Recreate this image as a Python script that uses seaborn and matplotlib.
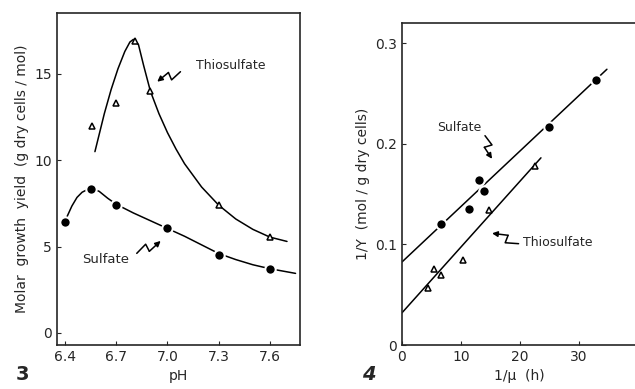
import numpy as np
import pandas as pd
import seaborn as sns
from matplotlib import pyplot as plt

# --- Fig 3: molar growth yield vs pH ---
ph_thio = [6.56, 6.7, 6.81, 6.9, 7.3, 7.6]
yield_thio = [12.0, 13.3, 16.9, 14.0, 7.4, 5.55]
ph_sulf = [6.4, 6.55, 6.7, 7.0, 7.3, 7.6]
yield_sulf = [6.4, 8.35, 7.4, 6.05, 4.5, 3.7]

# hand drawn curves
curve_thio_x = [6.575, 6.6, 6.63, 6.67, 6.71, 6.75, 6.78, 6.8, 6.83, 6.86, 6.9, 6.95, 7.0, 7.05, 7.1, 7.2, 7.3, 7.4, 7.5, 7.6, 7.7]
curve_thio_y = [10.5, 11.5, 12.7, 14.1, 15.3, 16.3, 16.85, 17.0, 16.7, 15.5, 14.0, 12.7, 11.6, 10.65, 9.8, 8.45, 7.4, 6.6, 6.0, 5.55, 5.3]
curve_sulf_x = [6.41, 6.44, 6.47, 6.5, 6.55, 6.6, 6.65, 6.7, 6.8, 6.9, 7.0, 7.1, 7.2, 7.3, 7.4, 7.5, 7.6, 7.75]
curve_sulf_y = [6.7, 7.35, 7.85, 8.15, 8.4, 8.2, 7.8, 7.45, 6.95, 6.5, 6.05, 5.6, 5.1, 4.6, 4.25, 3.95, 3.72, 3.45]

# --- Fig 4: 1/Y vs 1/mu ---
inv_mu_sulf = [6.6, 11.4, 13.1, 14.0, 25.0, 32.9]
inv_y_sulf = [0.120, 0.135, 0.164, 0.153, 0.217, 0.263]
inv_mu_thio = [4.5, 5.4, 6.7, 10.4, 14.7, 22.6]
inv_y_thio = [0.057, 0.076, 0.070, 0.084, 0.134, 0.178]

# fitted lines (end points)
fit_sulf_x = [0, 34.8]
fit_sulf_y = [0.0825, 0.274]
fit_thio_x = [0, 23.6]
fit_thio_y = [0.032, 0.186]

sns.set_style("ticks")
plt.rcParams["font.family"] = ["DejaVu Sans"]
plt.rcParams["xtick.direction"] = "in"
plt.rcParams["ytick.direction"] = "in"

fig = plt.figure(figsize=(6.35, 3.89), dpi=100)
ax1 = fig.add_axes([0.0898, 0.113, 0.3826, 0.8536])
ax2 = fig.add_axes([0.633, 0.113, 0.371, 0.828])

fs = 10

# left panel
sns.lineplot(x=curve_thio_x, y=curve_thio_y, sort=False, color="black", lw=1.1, ax=ax1)
sns.lineplot(x=curve_sulf_x, y=curve_sulf_y, sort=False, color="black", lw=1.1, ax=ax1)
ax1.plot(ph_thio, yield_thio, ls="none", marker="^", ms=5, mfc="white", mec="black", mew=1.1)
ax1.plot(ph_sulf, yield_sulf, ls="none", marker="o", ms=7.5, mfc="black", mec="white", mew=1.5)

ax1.set_xlim(6.353, 7.776)
ax1.set_ylim(-0.7, 18.53)
ax1.set_xticks([6.4, 6.7, 7.0, 7.3, 7.6])
ax1.set_xticklabels(["6.4", "6.7", "7.0", "7.3", "7.6"])
ax1.set_yticks([0, 5, 10, 15])
ax1.set_xlabel("pH", fontsize=fs)
ax1.set_ylabel("Molar  growth  yield  (g dry cells / mol)", fontsize=fs)
ax1.tick_params(labelsize=fs, length=3)

ax1.text(7.165, 15.5, "Thiosulfate", fontsize=9, va="center")
ax1.text(6.50, 4.28, "Sulfate", fontsize=9.5, va="center")

# right panel
sns.lineplot(x=fit_sulf_x, y=fit_sulf_y, color="black", lw=1.1, ax=ax2)
sns.lineplot(x=fit_thio_x, y=fit_thio_y, color="black", lw=1.1, ax=ax2)
ax2.plot(inv_mu_thio, inv_y_thio, ls="none", marker="^", ms=5, mfc="white", mec="black", mew=1.1)
ax2.plot(inv_mu_sulf, inv_y_sulf, ls="none", marker="o", ms=7.5, mfc="black", mec="white", mew=1.5)

ax2.set_xlim(0, 40)
ax2.set_ylim(0, 0.32)
ax2.set_xticks([0, 10, 20, 30])
ax2.set_yticks([0, 0.1, 0.2, 0.3])
ax2.set_yticklabels(["0", "0.1", "0.2", "0.3"])
ax2.set_xlabel("1/\u03bc  (h)", fontsize=fs)
ax2.set_ylabel("1/Y  (mol / g dry cells)", fontsize=fs)
ax2.tick_params(labelsize=fs, length=3)

ax2.text(5.9, 0.216, "Sulfate", fontsize=9, va="center")
ax2.text(20.6, 0.102, "Thiosulfate", fontsize=9, va="center")


def zigzag(ax, tail, head):
    # small lightning-shaped pointer from tail to head
    (x0, y0), (x1, y1) = tail, head
    t = ax.transData
    p0 = np.array(t.transform((x0, y0)))
    p1 = np.array(t.transform((x1, y1)))
    d = p1 - p0
    n = np.array([-d[1], d[0]]) / np.hypot(*d) * 4
    pts = [p0, p0 + d * 0.45 + n, p0 + d * 0.45 - n, p1]
    pts = t.inverted().transform(np.array(pts))
    ax.plot(pts[:3, 0], pts[:3, 1], color="black", lw=1.1)
    ax.annotate("", xy=pts[3], xytext=pts[2],
                arrowprops=dict(arrowstyle="-|>", color="black", lw=1.1,
                                mutation_scale=8, shrinkA=0, shrinkB=0))


zigzag(ax1, (7.076, 15.13), (6.94, 14.55))
zigzag(ax1, (6.82, 4.61), (6.96, 5.33))
zigzag(ax2, (14.1, 0.208), (15.3, 0.185))
zigzag(ax2, (19.8, 0.1007), (15.3, 0.111))

for ax in (ax1, ax2):
    for s in ax.spines.values():
        s.set_linewidth(1.2)

fig.text(0.024, 0.036, "3", fontsize=14, fontweight="bold", va="center")
fig.text(0.57, 0.036, "4", fontsize=14, fontweight="bold", style="italic", va="center")

fig.savefig("out.png", dpi=100)
